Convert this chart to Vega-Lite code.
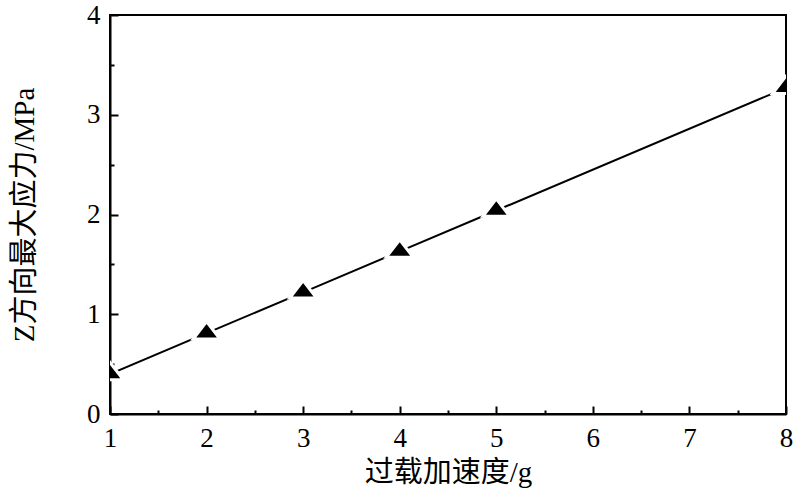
{
  "$schema": "https://vega.github.io/schema/vega-lite/v6.json",
  "width": 676,
  "height": 399,
  "autosize": {"type": "none"},
  "padding": {"left": 110, "top": 15, "right": 14, "bottom": 87},
  "background": "white",
  "config": {
    "view": {"stroke": "black", "strokeWidth": 2},
    "font": "Liberation Serif",
    "axis": {
      "domainColor": "black",
      "domainWidth": 2,
      "tickColor": "black",
      "tickWidth": 2,
      "grid": false,
      "labelFont": "Liberation Serif",
      "labelFontSize": 27,
      "labelColor": "black",
      "titleFont": "Liberation Serif, Noto Sans CJK SC",
      "titleFontSize": 29,
      "titleFontWeight": "normal",
      "titleColor": "black"
    }
  },
  "data": {
    "values": [
      {"g": 1, "stress": 0.40},
      {"g": 2, "stress": 0.81},
      {"g": 3, "stress": 1.22},
      {"g": 4, "stress": 1.63},
      {"g": 5, "stress": 2.04},
      {"g": 8, "stress": 3.27}
    ]
  },
  "layer": [
    {
      "mark": {"type": "line", "color": "black", "strokeWidth": 2, "clip": true},
      "encoding": {
        "x": {
          "field": "g", "type": "quantitative",
          "scale": {"domain": [1, 8], "nice": false, "zero": false},
          "axis": {
            "title": "过载加速度/g",
            "values": [1, 1.5, 2, 2.5, 3, 3.5, 4, 4.5, 5, 5.5, 6, 6.5, 7, 7.5, 8],
            "labelExpr": "datum.value % 1 === 0 ? format(datum.value, 'd') : ''",
            "tickSize": {"signal": "datum.value % 1 === 0 ? -8 : -4"},
            "labelPadding": 19,
            "labelFlush": false,
            "labelOverlap": false,
            "titlePadding": 3
          }
        },
        "y": {
          "field": "stress", "type": "quantitative",
          "scale": {"domain": [0, 4], "nice": false},
          "axis": {
            "title": "Z方向最大应力/MPa",
            "values": [0, 0.5, 1, 1.5, 2, 2.5, 3, 3.5, 4],
            "labelExpr": "datum.value % 1 === 0 ? format(datum.value, 'd') : ''",
            "tickSize": {"signal": "datum.value % 1 === 0 ? -8 : -4"},
            "labelPadding": 18,
            "labelFlush": false,
            "labelOverlap": false,
            "titlePadding": 47
          }
        }
      }
    },
    {
      "mark": {
        "type": "point",
        "shape": "M0,-0.87L1,0.43L-1,0.43Z",
        "filled": true,
        "color": "black",
        "size": 720,
        "opacity": 1,
        "stroke": "white",
        "strokeWidth": 3,
        "clip": true
      },
      "encoding": {
        "x": {"field": "g", "type": "quantitative"},
        "y": {"field": "stress", "type": "quantitative"}
      }
    }
  ]
}
